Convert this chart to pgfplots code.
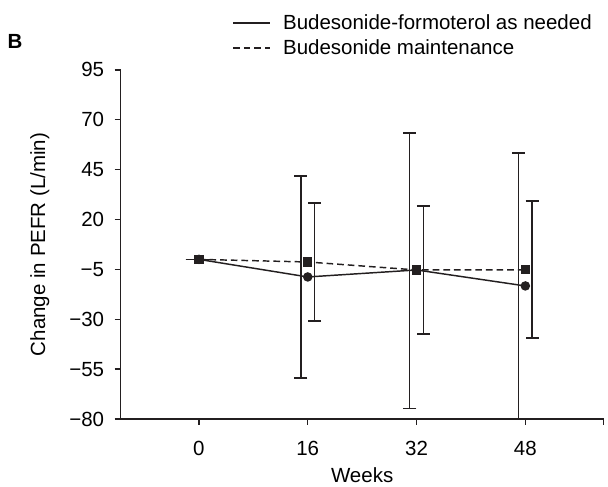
\documentclass[border=0pt]{standalone}
\usepackage{fontspec}
\setmainfont{Liberation Sans}
\usepackage{pgfplots}
\usepackage{pgfplotstable}
\pgfplotsset{compat=1.18}
\definecolor{ink}{HTML}{231F20}

% error bars are drawn 1 week left (as needed) / right (maintenance) of the mean
\pgfplotstableread{
x  y     ep    em
-1 0     0     0
15 -8.8  50.5  50.7
31 -5.3  68.6  69.4
47 -13.3 66.6  66.4
}\needederr
\pgfplotstableread{
x  y     ep    em
1  0     0     0
17 -1.3  29.6  29.5
33 -5.3  32.0  32.0
49 -5.2  34.4  34.3
}\mainterr

\begin{document}
\begin{tikzpicture}[font=\fontsize{15.4}{18.5}\selectfont]
\path (-90.75pt,-49.5pt) rectangle (365.25pt,315pt);
\begin{axis}[
  at={(0,0)}, anchor=south west,
  scale only axis, width=363pt, height=262.5pt,
  xmin=-11.5, xmax=59.5, ymin=-80, ymax=95,
  axis lines=left,
  axis line style={-, ink, line width=1.1pt},
  tick align=outside,
  major tick length=4.5pt,
  tick style={ink, line width=1.1pt},
  xtick={0,16,32,48}, xticklabels={0,16,32,48},
  extra x ticks={59.5}, extra x tick labels={},
  ytick={-80,-55,-30,-5,20,45,70,95},
  yticklabels={−80,−55,−30,−5,20,45,70,95},
  xticklabel style={yshift=-8.5pt},
  yticklabel style={xshift=-4.5pt},
  xlabel={Weeks},
  ylabel={Change in PEFR (L/min)},
  xlabel style={at={(axis description cs:0.5,-0.16)}, anchor=center},
  ylabel style={at={(axis description cs:-0.1674,0.5)}, anchor=center},
  clip=false,
  legend cell align=left,
  legend style={draw=none, fill=none, inner sep=0pt,
    at={(axis description cs:0.2308,1.166)}, anchor=north west,
    row sep=2pt, /tikz/every odd column/.append style={column sep=7pt}},
  legend image code/.code={\draw[#1, line width=1.1pt] (0pt,0pt) -- (28pt,0pt);},
]
\addplot[ink, line width=1.1pt, mark=*, mark size=3pt,
  mark options={solid, fill=ink}]
  coordinates {(0,0) (16,-8.8) (32,-5.3) (48,-13.3)};
\addlegendentry{Budesonide-formoterol as needed}
\addplot[ink, line width=1.1pt, dash pattern=on 5pt off 3pt,
  mark=square*, mark size=2.9pt, mark options={solid, fill=ink}]
  coordinates {(0,0) (16,-1.3) (32,-5.3) (48,-5.2)};
\addlegendentry{Budesonide maintenance}

\addplot[forget plot, draw=none, mark=none,
  error bars/.cd, y dir=both, y explicit, error mark=|,
  error mark options={mark size=4.9pt, line width=1.1pt, solid, draw=ink},
  error bar style={draw=ink, solid, line width=1.1pt}]
  table[x=x, y=y, y error plus=ep, y error minus=em] {\needederr};
\addplot[forget plot, draw=none, mark=none,
  error bars/.cd, y dir=both, y explicit, error mark=|,
  error mark options={mark size=4.9pt, line width=1.1pt, solid, draw=ink},
  error bar style={draw=ink, solid, line width=1.1pt}]
  table[x=x, y=y, y error plus=ep, y error minus=em] {\mainterr};

\node[font=\fontsize{15.4}{18.5}\selectfont\bfseries] at (axis description cs:-0.219,1.08) {B};
\end{axis}
\end{tikzpicture}
\end{document}
